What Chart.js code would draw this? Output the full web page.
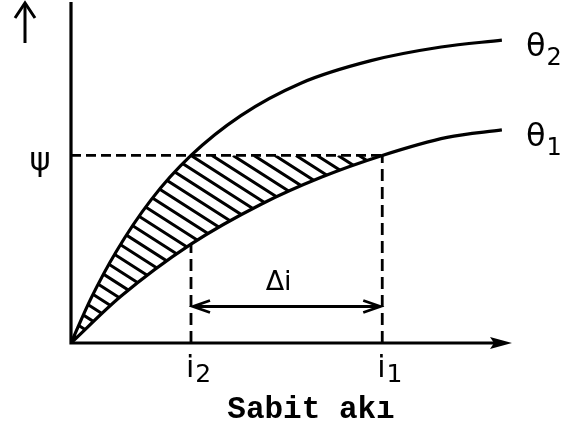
<!DOCTYPE html>
<html>
<head>
<meta charset="utf-8">
<script src="https://cdn.jsdelivr.net/npm/chart.js@4.4.1/dist/chart.umd.min.js"></script>
<style>
  html, body { margin: 0; padding: 0; background: #fff; }
</style>
</head>
<body>
<canvas id="grafica" width="563" height="439"></canvas>
<script>
// curve θ2 (upper) and θ1 (lower)
const theta2X = [0, 0.53, 1.2, 2.13, 3.2, 4.53, 6.13, 8.0, 9.87, 11.49];
const theta2Y = [0, 1.3, 2.67, 4.19, 5.5, 6.67, 7.62, 8.28, 8.68, 8.88];
const theta1X = [0, 1.33, 3.2, 5.07, 6.67, 8.3, 10.03, 11.49];
const theta1Y = [0, 1.37, 2.9, 4.07, 4.86, 5.5, 6.03, 6.25];

// flux level and the two currents
const psi = 5.5;
const i2 = 3.2;
const i1 = 8.3;
const i2Top = 2.9;      // θ1 at i2
const deltaY = 1.07;    // height of the Δi arrow
const axisEnd = 11.76;  // tip of the current axis

const curveLabels = [["θ", "2"], ["θ", "1"]];
const currentLabels = [["i", "2"], ["i", "1"]];
const psiLabel = "ψ";
const deltaLabel = "Δi";
const axisTitle = "Sabit akı";

const toPoints = (xs, ys) => xs.map((x, k) => ({ x: x, y: ys[k] }));

function drawSub(ctx, main, sub, x, y, mainSize, subSize, drop) {
  ctx.font = mainSize + "px 'DejaVu Sans'";
  ctx.textAlign = "left";
  ctx.textBaseline = "alphabetic";
  ctx.fillText(main, x, y);
  const w = ctx.measureText(main).width;
  ctx.font = subSize + "px 'DejaVu Sans'";
  ctx.fillText(sub, x + w + 1, y + drop);
}

function arrowHead(ctx, x, y, dir, len, half) {
  ctx.beginPath();
  ctx.moveTo(x - dir * len, y - half);
  ctx.lineTo(x, y);
  ctx.lineTo(x - dir * len, y + half);
  ctx.stroke();
}

// hatching between the curves, under the ψ line
const hatch = {
  id: "hatch",
  beforeDatasetsDraw(chart) {
    const { ctx, chartArea: a, scales: { x, y } } = chart;
    const upper = chart.getDatasetMeta(0).dataset;
    const lower = chart.getDatasetMeta(1).dataset;
    const yPsi = y.getPixelForValue(psi);
    ctx.save();
    ctx.beginPath();
    upper.path(ctx);
    ctx.lineTo(upper.last().x, a.bottom);
    ctx.lineTo(upper.first().x, a.bottom);
    ctx.closePath();
    ctx.clip();
    ctx.beginPath();
    lower.path(ctx);
    ctx.lineTo(lower.last().x, a.top);
    ctx.lineTo(lower.first().x, a.top);
    ctx.closePath();
    ctx.clip();
    ctx.beginPath();
    ctx.rect(a.left, yPsi, a.width, a.bottom - yPsi);
    ctx.clip();

    const step = 21, slope = 0.64;
    const x0 = x.getPixelForValue(i2);
    ctx.strokeStyle = "#000";
    ctx.lineWidth = 3;
    ctx.beginPath();
    for (let k = -30; k < 20; k++) {
      const sx = x0 + k * step;
      ctx.moveTo(sx, yPsi);
      ctx.lineTo(sx + 500, yPsi + 500 * slope);
    }
    ctx.stroke();
    ctx.restore();
  }
};

// axes, arrows and all the text
const overlay = {
  id: "overlay",
  afterDatasetsDraw(chart) {
    const { ctx, chartArea: a, scales: { x, y } } = chart;
    const ox = x.getPixelForValue(0);
    const oy = y.getPixelForValue(0);
    ctx.save();
    ctx.strokeStyle = "#000";
    ctx.fillStyle = "#000";
    ctx.lineCap = "butt";

    // axes
    ctx.lineWidth = 3.2;
    ctx.beginPath();
    ctx.moveTo(ox, a.top);
    ctx.lineTo(ox, oy);
    const ex = x.getPixelForValue(axisEnd);
    ctx.lineTo(ex - 12, oy);
    ctx.stroke();
    ctx.beginPath();
    ctx.moveTo(ex, oy);
    ctx.lineTo(ex - 22, oy - 6);
    ctx.lineTo(ex - 18, oy);
    ctx.lineTo(ex - 22, oy + 6);
    ctx.closePath();
    ctx.fill();

    // ψ direction arrow beside the axis
    const ux = ox - 46;
    ctx.lineWidth = 3;
    ctx.beginPath();
    ctx.moveTo(ux, a.top + 41);
    ctx.lineTo(ux, a.top + 2);
    ctx.stroke();
    ctx.beginPath();
    ctx.moveTo(ux - 10, a.top + 16);
    ctx.lineTo(ux, a.top + 1);
    ctx.lineTo(ux + 10, a.top + 16);
    ctx.stroke();

    // Δi arrow
    const xa = x.getPixelForValue(i2), xb = x.getPixelForValue(i1);
    const ya = y.getPixelForValue(deltaY);
    ctx.lineWidth = 2.8;
    ctx.beginPath();
    ctx.moveTo(xa + 2, ya);
    ctx.lineTo(xb - 2, ya);
    ctx.stroke();
    arrowHead(ctx, xa + 2, ya, -1, 17, 6);
    arrowHead(ctx, xb - 2, ya, 1, 17, 6);

    ctx.font = "27px 'DejaVu Sans'";
    ctx.textAlign = "center";
    ctx.textBaseline = "alphabetic";
    ctx.fillText(deltaLabel, (xa + xb) / 2 - 8, ya - 17);

    // curve names at the right ends
    const ends = [
      chart.getDatasetMeta(0).dataset.last(),
      chart.getDatasetMeta(1).dataset.last()
    ];
    ends.forEach((p, k) => {
      drawSub(ctx, curveLabels[k][0], curveLabels[k][1], p.x + 24, p.y + 16, 32, 24, 9);
    });

    // ψ level
    ctx.font = "32px 'DejaVu Sans'";
    ctx.textAlign = "center";
    ctx.fillText(psiLabel, ox - 31, y.getPixelForValue(psi) + 15);

    // currents under the axis
    [i2, i1].forEach((v, k) => {
      drawSub(ctx, currentLabels[k][0], currentLabels[k][1], x.getPixelForValue(v) - 5, oy + 34, 30, 25, 5);
    });

    // axis title
    ctx.font = "bold 31px 'Liberation Mono'";
    ctx.textAlign = "center";
    ctx.fillText(axisTitle, x.getPixelForValue(6.4), oy + 75);
    ctx.restore();
  }
};

const dashed = (pts, dash) => ({
  data: pts,
  showLine: true,
  borderColor: "#000",
  borderWidth: 2.8,
  borderDash: dash,
  pointRadius: 0
});

const curve = (pts) => ({
  data: pts,
  showLine: true,
  borderColor: "#000",
  borderWidth: 3.2,
  pointRadius: 0,
  cubicInterpolationMode: "monotone"
});

new Chart("grafica", {
  type: "scatter",
  data: {
    datasets: [
      curve(toPoints(theta2X, theta2Y)),
      curve(toPoints(theta1X, theta1Y)),
      dashed([{ x: 0, y: psi }, { x: i1, y: psi }], [10, 5]),
      dashed([{ x: i2, y: 0 }, { x: i2, y: i2Top }], [12, 6]),
      dashed([{ x: i1, y: 0 }, { x: i1, y: psi }], [12, 6])
    ]
  },
  options: {
    responsive: false,
    animation: false,
    layout: { padding: { left: 71, right: 42, top: 2, bottom: 96 } },
    scales: {
      x: { type: "linear", min: 0, max: 12, display: false },
      y: { type: "linear", min: 0, max: 10, display: false }
    },
    plugins: {
      legend: { display: false },
      tooltip: { enabled: false }
    }
  },
  plugins: [hatch, overlay]
});
</script>
</body>
</html>
